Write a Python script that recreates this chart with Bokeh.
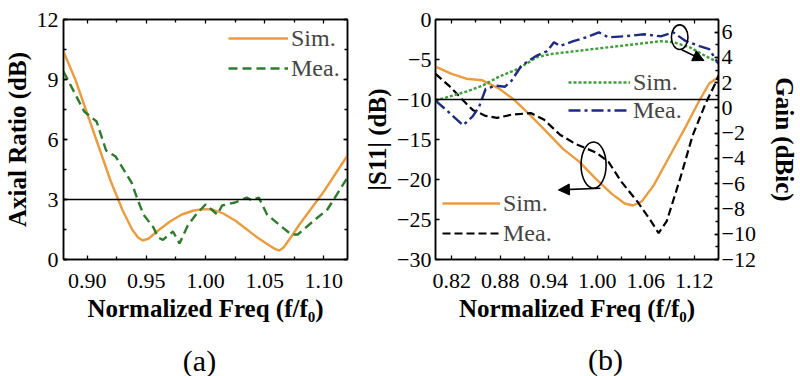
from bokeh.plotting import figure
from bokeh.layouts import row, column
from bokeh.embed import file_html
from bokeh.resources import INLINE
from bokeh.core.properties import value
from bokeh.models import (Span, Legend, LegendItem, LinearAxis, Range1d, FixedTicker,
                          SingleIntervalTicker, CustomJSTickFormatter, Arrow, NormalHead)

# ---------------- data: panel (a) axial ratio ----------------
ar_freq_sim = [0.880, 0.890, 0.900, 0.910, 0.920, 0.930, 0.938, 0.943, 0.947, 0.952, 0.960,
               0.970, 0.980, 0.990, 0.998, 1.006, 1.015, 1.025, 1.035, 1.045, 1.054, 1.059,
               1.0625, 1.066, 1.072, 1.080, 1.090, 1.100, 1.110, 1.120]
ar_sim = [10.4, 9.0, 7.3, 5.6, 3.9, 2.45, 1.5, 1.1, 0.95, 1.05, 1.45, 1.9, 2.25, 2.45, 2.52,
          2.5, 2.3, 1.95, 1.5, 1.05, 0.7, 0.52, 0.45, 0.6, 1.1, 1.8, 2.6, 3.4, 4.3, 5.2]
ar_freq_mea = [0.880, 0.8975, 0.908, 0.916, 0.924, 0.9375, 0.942, 0.9475, 0.956, 0.960, 0.964,
               0.9725, 0.978, 0.985, 0.992, 1.000, 1.006, 1.010, 1.014, 1.025, 1.035, 1.039,
               1.045, 1.052, 1.062, 1.0725, 1.078, 1.0917, 1.103, 1.120]
ar_mea = [9.4, 7.4, 6.9, 5.45, 5.15, 3.85, 3.1, 2.25, 1.6, 1.1, 0.98, 1.4, 0.8, 1.7, 2.25,
          2.75, 2.45, 2.25, 2.7, 2.85, 3.1, 2.95, 3.1, 2.25, 1.75, 1.25, 1.25, 1.95, 2.5, 4.1]
ar_xticks = [0.90, 0.95, 1.00, 1.05, 1.10]
ar_xminor = [0.925, 0.975, 1.025, 1.075]

# ---------------- data: panel (b) S11 and gain ----------------
s11_freq_sim = [0.800, 0.820, 0.838, 0.858, 0.878, 0.898, 0.918, 0.938, 0.958, 0.978, 0.998,
                1.018, 1.034, 1.044, 1.055, 1.070, 1.090, 1.110, 1.1265, 1.1385, 1.150]
s11_sim = [-5.9, -6.8, -7.4, -7.6, -8.6, -10.1, -12.05, -14.1, -16.2, -17.8, -19.9,
           -21.8, -23.0, -23.25, -22.75, -20.7, -17.0, -13.3, -10.1, -8.0, -7.2]
s11_freq_mea = [0.800, 0.818, 0.834, 0.846, 0.862, 0.876, 0.894, 0.918, 0.934, 0.954, 0.974,
                0.998, 1.014, 1.030, 1.050, 1.0665, 1.076, 1.086, 1.1025, 1.118, 1.134,
                1.146, 1.150]
s11_mea = [-6.8, -8.4, -10.1, -11.3, -12.05, -12.3, -11.9, -11.7, -12.5, -14.4, -15.6,
           -16.6, -17.8, -20.3, -22.8, -25.2, -26.7, -25.2, -19.9, -14.5, -10.5, -8.0, -7.0]
gain_freq_sim = [0.800, 0.838, 0.858, 0.878, 0.902, 0.926, 0.942, 0.974, 1.014, 1.0545,
                 1.0785, 1.094, 1.1145, 1.134, 1.150]
gain_sim = [0.58, 1.29, 1.76, 2.46, 3.09, 4.03, 4.26, 4.5, 4.8, 5.1, 5.28, 5.2, 4.8, 4.1, 3.6]
gain_freq_mea = [0.800, 0.814, 0.834, 0.846, 0.854, 0.862, 0.874, 0.886, 0.894, 0.906, 0.924,
                 0.938, 0.9465, 0.954, 0.9705, 0.986, 1.002, 1.014, 1.034, 1.058, 1.0785,
                 1.094, 1.1097, 1.1265, 1.1385, 1.150]
gain_mea = [0.58, -0.2, -1.37, -0.67, 0.11, 1.5, 1.76, 1.68, 2.15, 3.32, 4.1, 4.5, 5.2, 4.9,
            5.28, 5.59, 5.98, 5.59, 5.67, 5.83, 5.67, 5.98, 5.28, 4.9, 4.65, 3.48]
b_xticks = [0.82, 0.88, 0.94, 1.00, 1.06, 1.12]
b_xminor = [0.85, 0.91, 0.97, 1.03, 1.09]

captions = ["(a)", "(b)"]

# annotation geometry (data units)
s11_ellipse = dict(x=0.9955, y=-18.2, w=0.031, h=5.8)
s11_arrow = dict(x0=1.004, y0=-21.1, x1=0.952, y1=-21.3)
gain_ellipse = dict(x=1.102, y=5.6, w=0.0205, h=1.95)
gain_arrow = dict(x0=1.1045, y0=4.6, x1=1.132, y1=3.75)

FONT = "Liberation Serif"
ORANGE = "#E99C40"
DKGREEN = "#2E7B2E"
LTGREEN = "#3E9E3A"
NAVY = "#1E2B80"

MAIN_H = 340
CAP_H = 376 - MAIN_H

blank = CustomJSTickFormatter(code="return '';")
signed = CustomJSTickFormatter(code="return (tick < 0 ? '\u2212' : '') + Math.abs(tick).toFixed(0);")
two_dec = CustomJSTickFormatter(code="return tick.toFixed(2);")


def style_axis(ax, standoff=5, label_standoff=3):
    ax.axis_line_color = "black"
    ax.axis_line_width = 1.5
    ax.major_tick_in = 4
    ax.major_tick_out = 0
    ax.minor_tick_in = 3
    ax.minor_tick_out = 0
    ax.major_tick_line_color = "black"
    ax.minor_tick_line_color = "black"
    ax.major_tick_line_width = 1.3
    ax.minor_tick_line_width = 1.3
    ax.major_label_text_font = FONT
    ax.major_label_text_font_size = "22px"
    ax.major_label_text_color = "black"
    ax.major_label_standoff = standoff
    ax.axis_label_text_font = FONT
    ax.axis_label_text_font_size = "25px"
    ax.axis_label_text_font_style = "bold"
    ax.axis_label_text_color = "black"
    ax.axis_label_standoff = label_standoff


def make_legend(items, loc, gw, lh):
    return Legend(items=items, location=loc, background_fill_alpha=0, border_line_color=None,
                  label_text_font=FONT, label_text_font_size="24px", glyph_width=gw,
                  glyph_height=lh, label_height=lh, spacing=0, padding=0, margin=0,
                  label_standoff=3)


def caption_fig(width, text, cx, cy):
    c = figure(width=width, height=CAP_H, x_range=Range1d(0, width), y_range=Range1d(0, CAP_H),
               output_backend="svg", toolbar_location=None, min_border=0)
    c.axis.visible = False
    c.grid.visible = False
    c.outline_line_color = None
    c.text(x=[cx], y=[cy], text=[text], text_align="center", text_baseline="middle",
           text_font=value(FONT), text_font_size="30px", text_color="black")
    return c


# ---------------- panel (a) ----------------
pa = figure(width=355, height=MAIN_H, x_range=Range1d(0.88, 1.12), y_range=Range1d(0, 12),
            output_backend="svg", toolbar_location=None, min_border_left=60,
            min_border_right=8, min_border_top=19, min_border_bottom=MAIN_H - 263)
pa.xgrid.visible = False
pa.ygrid.visible = False
pa.outline_line_color = "black"
pa.outline_line_width = 1.5

xt_a = FixedTicker(ticks=ar_xticks, minor_ticks=ar_xminor)
pa.xaxis.ticker = xt_a
pa.xaxis.formatter = two_dec
pa.xaxis.axis_label = "Normalized Freq (f/f\u2080)"
pa.yaxis.ticker = SingleIntervalTicker(interval=3, num_minor_ticks=2)
pa.yaxis.axis_label = "Axial Ratio (dB)"
for ax in pa.xaxis:
    style_axis(ax, standoff=14, label_standoff=4)
for ax in pa.yaxis:
    style_axis(ax, standoff=5, label_standoff=3)
top_a = LinearAxis(ticker=xt_a, formatter=blank)
style_axis(top_a)
pa.add_layout(top_a, "above")
right_a = LinearAxis(ticker=SingleIntervalTicker(interval=3, num_minor_ticks=2), formatter=blank)
style_axis(right_a)
pa.add_layout(right_a, "right")

pa.add_layout(Span(location=3, dimension="width", line_color="black", line_width=1.3))
ra1 = pa.line(ar_freq_sim, ar_sim, line_color=ORANGE, line_width=2.4)
ra2 = pa.line(ar_freq_mea, ar_mea, line_color=DKGREEN, line_width=2.4, line_dash="9 5")
pa.add_layout(make_legend([LegendItem(label="Sim.", renderers=[ra1]),
                           LegendItem(label="Mea.", renderers=[ra2])], (165, 176), 60, 30))

# ---------------- panel (b) ----------------
pb = figure(width=445, height=MAIN_H, x_range=Range1d(0.80, 1.15), y_range=Range1d(-30, 0),
            output_backend="svg", toolbar_location=None, min_border_left=80,
            min_border_right=75, min_border_top=15, min_border_bottom=MAIN_H - 259)
pb.extra_y_ranges = {"gain": Range1d(-12, 7)}
pb.xgrid.visible = False
pb.ygrid.visible = False
pb.outline_line_color = "black"
pb.outline_line_width = 1.5

xt_b = FixedTicker(ticks=b_xticks, minor_ticks=b_xminor)
pb.xaxis.ticker = xt_b
pb.xaxis.formatter = two_dec
pb.xaxis.axis_label = "Normalized Freq (f/f\u2080)"
pb.yaxis.ticker = SingleIntervalTicker(interval=5, num_minor_ticks=0)
pb.yaxis.formatter = signed
pb.yaxis.axis_label = "|S11| (dB)"
for ax in pb.xaxis:
    style_axis(ax, standoff=14, label_standoff=4)
for ax in pb.yaxis:
    style_axis(ax, standoff=4, label_standoff=3)
top_b = LinearAxis(ticker=xt_b, formatter=blank)
style_axis(top_b)
pb.add_layout(top_b, "above")
gain_axis = LinearAxis(y_range_name="gain", ticker=SingleIntervalTicker(interval=2, num_minor_ticks=2),
                       formatter=signed, axis_label="Gain (dBic)")
style_axis(gain_axis, standoff=3, label_standoff=12)
pb.add_layout(gain_axis, "right")

pb.add_layout(Span(location=-10, dimension="width", line_color="black", line_width=1.3))
rb1 = pb.line(s11_freq_sim, s11_sim, line_color=ORANGE, line_width=2.4)
rb2 = pb.line(s11_freq_mea, s11_mea, line_color="black", line_width=2.2, line_dash="8 4")
rb3 = pb.line(gain_freq_sim, gain_sim, line_color=LTGREEN, line_width=2.4, line_dash="3 2",
              y_range_name="gain")
rb4 = pb.line(gain_freq_mea, gain_mea, line_color=NAVY, line_width=2.4, line_dash="12 4 3 4",
              y_range_name="gain")

pb.ellipse(x=[s11_ellipse["x"]], y=[s11_ellipse["y"]], width=s11_ellipse["w"],
           height=s11_ellipse["h"], fill_color=None, line_color="black", line_width=1.6)
pb.add_layout(Arrow(end=NormalHead(size=11, fill_color="black", line_color="black"),
                    x_start=s11_arrow["x0"], y_start=s11_arrow["y0"],
                    x_end=s11_arrow["x1"], y_end=s11_arrow["y1"], line_width=1.6))
pb.ellipse(x=[gain_ellipse["x"]], y=[gain_ellipse["y"]], width=gain_ellipse["w"],
           height=gain_ellipse["h"], fill_color=None, line_color="black", line_width=1.6,
           y_range_name="gain")
pb.add_layout(Arrow(end=NormalHead(size=11, fill_color="black", line_color="black"),
                    x_start=gain_arrow["x0"], y_start=gain_arrow["y0"],
                    x_end=gain_arrow["x1"], y_end=gain_arrow["y1"], line_width=1.6,
                    y_range_name="gain"))

pb.add_layout(make_legend([LegendItem(label="Sim.", renderers=[rb3]),
                           LegendItem(label="Mea.", renderers=[rb4])], (133, 135), 62, 28))
pb.add_layout(make_legend([LegendItem(label="Sim.", renderers=[rb1]),
                           LegendItem(label="Mea.", renderers=[rb2])], (7, 11), 58, 30))

# ---------------- captions ----------------
ca = caption_fig(355, captions[0], 199, CAP_H - (360 - MAIN_H))
cb = caption_fig(445, captions[1], 605 - 355, CAP_H - (359 - MAIN_H))

layout = column(row(pa, pb), row(ca, cb))
open("out.html", "w").write(file_html(layout, INLINE))
